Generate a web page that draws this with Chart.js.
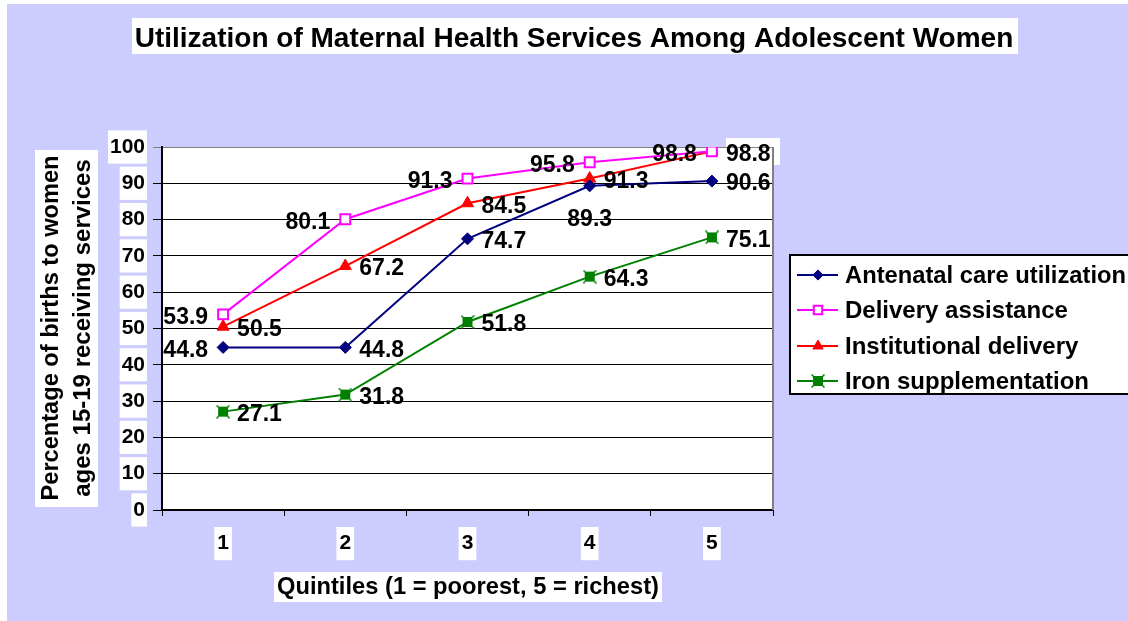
<!DOCTYPE html>
<html><head><meta charset="utf-8">
<script src="https://cdn.jsdelivr.net/npm/chart.js@4/dist/chart.umd.min.js"></script>
<style>html,body{margin:0;padding:0;background:#fff;}#wrap{width:1128px;height:621px;}</style>
</head><body><div id="wrap"><canvas id="c" width="1128" height="621"></canvas></div>
<script>
const categories = ['1', '2', '3', '4', '5'];
const antenatalCare = [44.8, 44.8, 74.7, 89.3, 90.6];
const deliveryAssistance = [53.9, 80.1, 91.3, 95.8, 98.8];
const institutionalDelivery = [50.5, 67.2, 84.5, 91.3, 98.8];
const ironSupplementation = [27.1, 31.8, 51.8, 64.3, 75.1];
const seriesNames = ['Antenatal care utilization', 'Delivery assistance', 'Institutional delivery', 'Iron supplementation'];
const yTickValues = [0, 10, 20, 30, 40, 50, 60, 70, 80, 90, 100];
const chartTitle = 'Utilization of Maternal Health Services Among Adolescent Women';
const xTitle = 'Quintiles (1 = poorest, 5 = richest)';
const yTitle = ['Percentage of births to women', 'ages 15-19 receiving services'];

// label placement per series point: L = left, R = right, B = below
const labelSide = [
  ['L', 'R', 'R', 'B', 'R'],
  ['L', 'L', 'L', 'L', 'L'],
  ['R', 'R', 'R', 'R', 'R'],
  ['R', 'R', 'R', 'R', 'R']
];

const FONT = "'Liberation Sans', Arial, sans-serif";
const LAV = '#CCCCFF';

function ironMarker() {
  const c = document.createElement('canvas');
  c.width = 14; c.height = 14;
  const g = c.getContext('2d');
  g.fillStyle = '#008000';
  g.fillRect(2, 2, 10, 10);
  g.strokeStyle = '#008000';
  g.lineWidth = 1.5;
  g.beginPath();
  g.moveTo(0.5, 0.5); g.lineTo(13.5, 13.5);
  g.moveTo(13.5, 0.5); g.lineTo(0.5, 13.5);
  g.stroke();
  return c;
}
const ironImg = ironMarker();

const decorPlugin = {
  id: 'decor',
  beforeDraw(chart) {
    const ctx = chart.ctx;
    const a = chart.chartArea;
    ctx.save();
    ctx.fillStyle = '#fff';
    ctx.fillRect(0, 0, chart.width, chart.height);
    ctx.fillStyle = LAV;
    ctx.fillRect(7, 4, chart.width - 7, chart.height - 4);
    ctx.fillStyle = '#fff';
    ctx.fillRect(132, 18, 886, 36);
    ctx.fillRect(35, 150, 63, 357);
    ctx.fillRect(274, 572, 388, 30);
    ctx.fillRect(a.left, a.top, a.right - a.left, a.bottom - a.top);
    ctx.fillRect(726, 138, 54, 27);
    ctx.fillStyle = '#000';
    ctx.textAlign = 'center';
    ctx.textBaseline = 'alphabetic';
    ctx.font = 'bold 28px ' + FONT;
    ctx.fillText(chartTitle, 574, 47, 884);
    ctx.font = 'bold 24px ' + FONT;
    ctx.textBaseline = 'middle';
    ctx.fillText(xTitle, 468, 587, 382);
    ctx.save();
    ctx.rotate(-Math.PI / 2);
    ctx.fillText(yTitle[0], -328, 51, 345);
    ctx.fillText(yTitle[1], -328, 83, 345);
    ctx.restore();
    ctx.restore();
  },
  beforeDatasetsDraw(chart) {
    const ctx = chart.ctx;
    const a = chart.chartArea;
    ctx.save();
    ctx.strokeStyle = '#808080';
    ctx.lineWidth = 2;
    ctx.beginPath();
    ctx.moveTo(a.right, a.top);
    ctx.lineTo(a.right, a.bottom);
    ctx.stroke();
    ctx.restore();
  },
  afterDatasetsDraw(chart) {
    const ctx = chart.ctx;
    ctx.save();
    ctx.font = 'bold 23px ' + FONT;
    ctx.fillStyle = '#000';
    ctx.textBaseline = 'middle';
    chart.data.datasets.forEach((ds, di) => {
      const meta = chart.getDatasetMeta(di);
      meta.data.forEach((pt, i) => {
        const txt = ds.data[i].toFixed(1);
        const side = labelSide[di][i];
        if (side === 'L') { ctx.textAlign = 'right'; ctx.fillText(txt, pt.x - 15, pt.y + 3); }
        else if (side === 'R') { ctx.textAlign = 'left'; ctx.fillText(txt, pt.x + 14, pt.y + 3); }
        else { ctx.textAlign = 'center'; ctx.fillText(txt, pt.x, pt.y + 34); }
      });
    });
    const lx = 790, ly = 255, lw = 350, lh = 139;
    ctx.fillStyle = '#fff';
    ctx.fillRect(lx, ly, lw, lh);
    ctx.strokeStyle = '#000';
    ctx.lineWidth = 2;
    ctx.strokeRect(lx, ly, lw, lh);
    const rows = [275, 310, 346, 381];
    chart.data.datasets.forEach((ds, di) => {
      const y = rows[di];
      ctx.strokeStyle = ds.borderColor;
      ctx.lineWidth = 2;
      ctx.beginPath();
      ctx.moveTo(797, y); ctx.lineTo(838, y);
      ctx.stroke();
      ctx.fillStyle = ds.pointBackgroundColor;
      ctx.strokeStyle = ds.pointBorderColor;
      ctx.lineWidth = ds.pointBorderWidth;
      Chart.helpers.drawPoint(ctx, { pointStyle: ds.pointStyle, radius: ds.pointRadius * 0.85, borderWidth: ds.pointBorderWidth, rotation: 0 }, 818, y);
      ctx.fillStyle = '#000';
      ctx.font = 'bold 24px ' + FONT;
      ctx.textAlign = 'left';
      ctx.textBaseline = 'middle';
      ctx.fillText(ds.label, 845, y + 1, 281);
    });
    ctx.restore();
  }
};

new Chart(document.getElementById('c'), {
  type: 'line',
  data: {
    labels: categories,
    datasets: [
      { label: seriesNames[0], data: antenatalCare, borderColor: '#000080', backgroundColor: '#000080',
        pointBackgroundColor: '#000080', pointBorderColor: '#000080', pointBorderWidth: 1,
        pointStyle: 'rectRot', pointRadius: 6, borderWidth: 2 },
      { label: seriesNames[1], data: deliveryAssistance, borderColor: '#FF00FF', backgroundColor: '#FF00FF',
        pointBackgroundColor: '#FFFFFF', pointBorderColor: '#FF00FF', pointBorderWidth: 2,
        pointStyle: 'rect', pointRadius: 7, borderWidth: 2 },
      { label: seriesNames[2], data: institutionalDelivery, borderColor: '#FF0000', backgroundColor: '#FF0000',
        pointBackgroundColor: '#FF0000', pointBorderColor: '#FF0000', pointBorderWidth: 1,
        pointStyle: 'triangle', pointRadius: 7, borderWidth: 2 },
      { label: seriesNames[3], data: ironSupplementation, borderColor: '#008000', backgroundColor: '#008000',
        pointBackgroundColor: '#008000', pointBorderColor: '#008000', pointBorderWidth: 1,
        pointStyle: ironImg, pointRadius: 7, borderWidth: 2 }
    ]
  },
  options: {
    responsive: false,
    devicePixelRatio: 1,
    animation: false,
    layout: { padding: { left: 0, top: 147, right: 355, bottom: 0 } },
    plugins: { legend: { display: false }, title: { display: false }, tooltip: { enabled: false } },
    elements: { line: { tension: 0 } },
    scales: {
      x: {
        type: 'category',
        offset: true,
        grid: { offset: true, drawOnChartArea: false, drawTicks: true, tickLength: 6, color: '#000', lineWidth: 1 },
        border: { display: true, color: '#000', width: 2 },
        ticks: { font: { family: FONT, weight: 'bold', size: 21 }, color: '#000', padding: 15,
          showLabelBackdrop: true, backdropColor: '#fff', backdropPadding: { x: 3, y: 4 } },
        afterFit: s => { s.height = 111; }
      },
      y: {
        min: 0, max: 100,
        afterBuildTicks: s => { s.ticks = yTickValues.map(v => ({ value: v })); },
        grid: { color: c => (c.tick && c.tick.value === 100) ? '#808080' : '#000', lineWidth: 1, tickLength: 9, drawTicks: true },
        border: { display: true, color: '#000', width: 2 },
        ticks: { font: { family: FONT, weight: 'bold', size: 21 }, color: '#000', padding: 8,
          showLabelBackdrop: true, backdropColor: '#fff', backdropPadding: { x: 2, y: 4 } },
        afterFit: s => { s.width = 162; }
      }
    }
  },
  plugins: [decorPlugin]
});
</script>
</body></html>
